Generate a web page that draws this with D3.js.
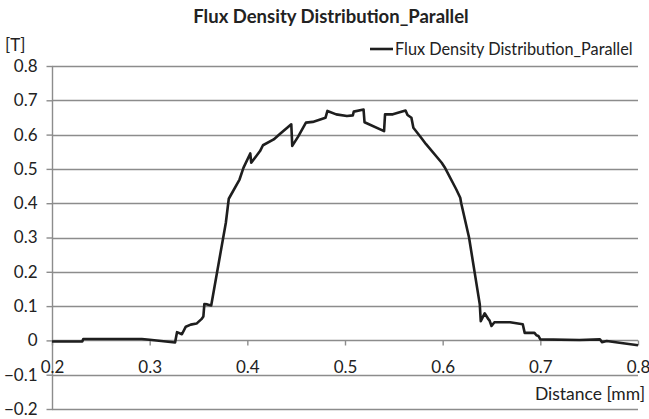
<!DOCTYPE html>
<html>
<head>
<meta charset="utf-8">
<title>Flux Density Distribution_Parallel</title>
<script src="https://cdn.jsdelivr.net/npm/d3@7"></script>
<style>
  body { margin: 0; background: #fff; }
  text { font-family: Lato, "Open Sans", sans-serif; fill: #222; }
  .grid line { stroke: #8c8c8c; stroke-width: 1.4px; }
  .axis path, .axis line { stroke: #8c8c8c; stroke-width: 1.4px; }
  .series { fill: none; stroke: #1e1e1e; stroke-width: 2.6px; stroke-linejoin: round; }
</style>
</head>
<body>
<svg width="649" height="419"></svg>
<script>
  // distance [mm]
  var distance = [0.200, 0.231, 0.232, 0.292, 0.300, 0.326, 0.328, 0.333, 0.337, 0.342,
    0.348, 0.353, 0.355, 0.356, 0.359, 0.363, 0.378, 0.381, 0.392, 0.396,
    0.403, 0.404, 0.413, 0.416, 0.427, 0.433, 0.445, 0.446, 0.452, 0.460,
    0.467, 0.480, 0.482, 0.491, 0.502, 0.508, 0.509, 0.519, 0.520, 0.540,
    0.541, 0.549, 0.562, 0.564, 0.568, 0.570, 0.578, 0.583, 0.599, 0.602,
    0.614, 0.618, 0.619, 0.627, 0.638, 0.639, 0.643, 0.647, 0.648, 0.650,
    0.653, 0.669, 0.682, 0.684, 0.694, 0.696, 0.698, 0.700, 0.740, 0.761,
    0.763, 0.768, 0.781, 0.800]
  // flux density [T]
  var flux = [-0.003, -0.003, 0.004, 0.004, 0.002, -0.006, 0.024, 0.018, 0.040, 0.046,
    0.049, 0.062, 0.070, 0.106, 0.105, 0.102, 0.343, 0.413, 0.469, 0.503,
    0.545, 0.518, 0.552, 0.569, 0.586, 0.601, 0.630, 0.567, 0.594, 0.635,
    0.637, 0.649, 0.669, 0.659, 0.654, 0.656, 0.667, 0.673, 0.636, 0.610,
    0.659, 0.659, 0.670, 0.657, 0.649, 0.620, 0.591, 0.572, 0.518, 0.505,
    0.440, 0.416, 0.400, 0.300, 0.105, 0.056, 0.079, 0.061, 0.058, 0.042,
    0.053, 0.053, 0.047, 0.022, 0.022, 0.015, 0.013, 0.003, 0.001, 0.003,
    -0.005, -0.002, -0.007, -0.014]

  var xTicks = [0.2, 0.3, 0.4, 0.5, 0.6, 0.7, 0.8]
  var yTicks = [-0.2, -0.1, 0, 0.1, 0.2, 0.3, 0.4, 0.5, 0.6, 0.7, 0.8]

  var title = 'Flux Density Distribution_Parallel'
  var seriesName = 'Flux Density Distribution_Parallel'

  var svg = d3.select('svg')

  var x = d3.scaleLinear().domain([0.2, 0.8]).range([52, 638])
  var y = d3.scaleLinear().domain([-0.2, 0.8]).range([409, 66])

  // horizontal gridlines
  svg.append('g')
    .attr('class', 'grid')
    .selectAll('line')
    .data(yTicks)
    .enter()
    .append('line')
    .attr('x1', x(0.2))
    .attr('x2', x(0.8))
    .attr('y1', d => Math.round(y(d)) + 0.5)
    .attr('y2', d => Math.round(y(d)) + 0.5)

  // y axis
  var yAxis = svg.append('g')
    .attr('class', 'axis')
    .attr('transform', 'translate(' + (x(0.2) + 0.5) + ',0)')
    .call(d3.axisLeft(y).tickValues(yTicks).tickSize(6).tickSizeOuter(0)
      .tickFormat(d => d3.format('')(+d.toFixed(1))))
  yAxis.selectAll('text')
    .style('font-size', '17px')
    .attr('x', -15)
  yAxis.select('.domain').attr('d', 'M0,' + y(0.8) + 'V' + (y(-0.2) + 1))

  // x axis on the zero line
  var xAxis = svg.append('g')
    .attr('class', 'axis')
    .attr('transform', 'translate(0,' + (Math.round(y(0)) + 0.5) + ')')
    .call(d3.axisBottom(x).tickValues(xTicks).tickSize(5).tickSizeOuter(0)
      .tickFormat(d => d3.format('')(+d.toFixed(1))))
  xAxis.select('.domain').remove()
  xAxis.selectAll('text')
    .style('font-size', '17px')
    .attr('y', 20)

  // series line
  var pts = distance.map((d, i) => [d, flux[i]])
  var line = d3.line()
    .x(d => x(d[0]))
    .y(d => y(d[1]))

  svg.append('path')
    .datum(pts)
    .attr('class', 'series')
    .attr('d', line)

  // title and axis labels
  svg.append('text')
    .attr('x', 331)
    .attr('y', 23)
    .attr('text-anchor', 'middle')
    .style('font-size', '18.5px')
    .style('font-weight', 'bold')
    .text(title)

  svg.append('text')
    .attr('x', 5)
    .attr('y', 51)
    .style('font-size', '17px')
    .text('[T]')

  svg.append('text')
    .attr('x', 645)
    .attr('y', 400)
    .attr('text-anchor', 'end')
    .style('font-size', '17.5px')
    .text('Distance [mm]')

  // legend
  var legend = svg.append('g').attr('transform', 'translate(370,49)')
  legend.append('line')
    .attr('x1', 0).attr('x2', 23)
    .attr('y1', 0).attr('y2', 0)
    .style('stroke', '#1e1e1e')
    .style('stroke-width', '2.6px')
  legend.append('text')
    .attr('x', 25)
    .attr('y', 5.5)
    .style('font-size', '16.3px')
    .text(seriesName)
</script>
</body>
</html>
